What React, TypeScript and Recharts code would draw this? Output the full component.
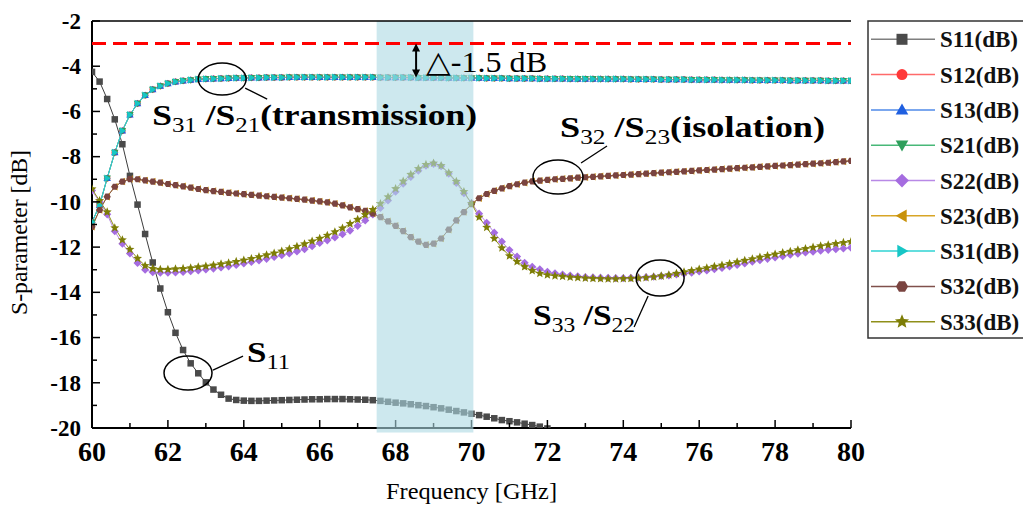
import React from 'react';
import { LineChart, Line, XAxis, YAxis, ReferenceArea, ReferenceLine, ReferenceDot } from 'recharts';

// frequency sweep [GHz]
const freq = [
  60, 60.2, 60.4, 60.6, 60.8, 61, 61.2, 61.4, 61.6, 61.8,
  62, 62.2, 62.4, 62.6, 62.8, 63, 63.2, 63.4, 63.6, 63.8,
  64, 64.2, 64.4, 64.6, 64.8, 65, 65.2, 65.4, 65.6, 65.8,
  66, 66.2, 66.4, 66.6, 66.8, 67, 67.2, 67.4, 67.6, 67.8,
  68, 68.2, 68.4, 68.6, 68.8, 69, 69.2, 69.4, 69.6, 69.8,
  70, 70.2, 70.4, 70.6, 70.8, 71, 71.2, 71.4, 71.6, 71.8,
  72, 72.2, 72.4, 72.6, 72.8, 73, 73.2, 73.4, 73.6, 73.8,
  74, 74.2, 74.4, 74.6, 74.8, 75, 75.2, 75.4, 75.6, 75.8,
  76, 76.2, 76.4, 76.6, 76.8, 77, 77.2, 77.4, 77.6, 77.8,
  78, 78.2, 78.4, 78.6, 78.8, 79, 79.2, 79.4, 79.6, 79.8,
  80,
];

// S11 drops below the -20 dB floor after 72 GHz
const s11 = [
  -4.25, -4.68, -5.45, -6.35, -7.45, -8.85, -10.12, -11.42, -12.68, -13.83,
  -14.88, -15.79, -16.55, -17.14, -17.58, -17.98, -18.3, -18.53, -18.7, -18.76,
  -18.79, -18.8, -18.8, -18.79, -18.78, -18.77, -18.76, -18.75, -18.74, -18.73,
  -18.73, -18.72, -18.72, -18.72, -18.73, -18.74, -18.75, -18.77, -18.8, -18.84,
  -18.88, -18.91, -18.95, -18.99, -19.03, -19.08, -19.13, -19.19, -19.25, -19.31,
  -19.37, -19.43, -19.5, -19.57, -19.65, -19.7, -19.75, -19.81, -19.87, -19.94,
  -20.02,
];

// S12 / S13 / S21 / S31 lie on top of each other
const transmission = [
  -10.9, -10.15, -8.95, -7.82, -6.85, -6.15, -5.65, -5.28, -5.03, -4.87,
  -4.76, -4.69, -4.64, -4.61, -4.58, -4.56, -4.55, -4.54, -4.53, -4.52,
  -4.52, -4.51, -4.51, -4.5, -4.5, -4.5, -4.49, -4.49, -4.49, -4.49,
  -4.49, -4.49, -4.49, -4.49, -4.49, -4.49, -4.49, -4.49, -4.5, -4.5,
  -4.5, -4.5, -4.5, -4.51, -4.51, -4.51, -4.51, -4.52, -4.52, -4.52,
  -4.52, -4.52, -4.53, -4.53, -4.53, -4.54, -4.54, -4.54, -4.54, -4.55,
  -4.55, -4.55, -4.55, -4.56, -4.56, -4.56, -4.56, -4.57, -4.57, -4.57,
  -4.57, -4.58, -4.58, -4.58, -4.58, -4.59, -4.59, -4.59, -4.59, -4.6,
  -4.6, -4.6, -4.6, -4.61, -4.61, -4.61, -4.61, -4.62, -4.62, -4.62,
  -4.62, -4.62, -4.63, -4.63, -4.63, -4.63, -4.63, -4.64, -4.64, -4.64,
  -4.64,
];

const s22 = [
  -9.5, -10.0, -10.55, -11.3, -11.85, -12.28, -12.7, -13.0, -13.11, -13.13,
  -13.13, -13.12, -13.1, -13.07, -13.03, -12.99, -12.95, -12.9, -12.85, -12.79,
  -12.72, -12.66, -12.59, -12.52, -12.44, -12.36, -12.28, -12.19, -12.09, -11.96,
  -11.82, -11.7, -11.57, -11.43, -11.27, -11.06, -10.82, -10.56, -10.27, -9.94,
  -9.55, -9.2, -8.9, -8.62, -8.4, -8.32, -8.42, -8.75, -9.16, -9.62,
  -10.05, -10.52, -10.92, -11.36, -11.76, -12.13, -12.42, -12.69, -12.87, -12.98,
  -13.09, -13.16, -13.21, -13.26, -13.29, -13.32, -13.34, -13.35, -13.36, -13.37,
  -13.37, -13.36, -13.35, -13.33, -13.31, -13.28, -13.25, -13.21, -13.17, -13.13,
  -13.08, -13.03, -12.98, -12.92, -12.86, -12.79, -12.72, -12.65, -12.58, -12.52,
  -12.46, -12.4, -12.34, -12.29, -12.24, -12.2, -12.16, -12.12, -12.09, -12.06,
  -12.03,
];

const s33 = [
  -9.43, -9.95, -10.45, -11.15, -11.68, -12.1, -12.5, -12.82, -12.95, -12.99,
  -12.99, -12.97, -12.95, -12.92, -12.88, -12.84, -12.8, -12.75, -12.7, -12.64,
  -12.58, -12.51, -12.43, -12.35, -12.27, -12.18, -12.08, -11.97, -11.86, -11.74,
  -11.62, -11.48, -11.33, -11.16, -10.97, -10.78, -10.57, -10.34, -10.08, -9.78,
  -9.42, -9.09, -8.79, -8.53, -8.35, -8.29, -8.4, -8.72, -9.1, -9.55,
  -10.08, -10.68, -11.13, -11.62, -12.04, -12.39, -12.64, -12.87, -13.04, -13.16,
  -13.23, -13.27, -13.3, -13.33, -13.35, -13.37, -13.39, -13.4, -13.41, -13.41,
  -13.4, -13.39, -13.37, -13.35, -13.32, -13.28, -13.23, -13.17, -13.1, -13.04,
  -12.98, -12.92, -12.86, -12.8, -12.73, -12.66, -12.59, -12.52, -12.45, -12.38,
  -12.31, -12.25, -12.19, -12.13, -12.07, -12.01, -11.95, -11.9, -11.85, -11.8,
  -11.76,
];

// S23 / S32
const isolation = [
  -11.1, -10.36, -9.77, -9.33, -9.1, -8.99, -9.0, -9.05, -9.1, -9.15,
  -9.21, -9.26, -9.31, -9.37, -9.43, -9.48, -9.52, -9.56, -9.6, -9.63,
  -9.66, -9.69, -9.72, -9.75, -9.78, -9.81, -9.84, -9.87, -9.9, -9.94,
  -9.98, -10.02, -10.08, -10.15, -10.24, -10.32, -10.4, -10.51, -10.67, -10.86,
  -11.06, -11.29, -11.56, -11.76, -11.9, -11.85, -11.62, -11.23, -10.82, -10.45,
  -10.1, -9.84, -9.65, -9.51, -9.4, -9.3, -9.22, -9.15, -9.09, -9.06,
  -9.03, -9.0, -8.98, -8.96, -8.93, -8.91, -8.89, -8.87, -8.85, -8.83,
  -8.81, -8.79, -8.77, -8.75, -8.73, -8.71, -8.69, -8.67, -8.65, -8.63,
  -8.61, -8.59, -8.57, -8.55, -8.53, -8.51, -8.49, -8.47, -8.45, -8.43,
  -8.41, -8.39, -8.37, -8.35, -8.33, -8.31, -8.29, -8.27, -8.24, -8.21,
  -8.19,
];

const xTicks = [60, 61, 62, 63, 64, 65, 66, 67, 68, 69, 70, 71, 72, 73, 74, 75, 76, 77, 78, 79, 80];
const yTicks = [-20, -19, -18, -17, -16, -15, -14, -13, -12, -11, -10, -9, -8, -7, -6, -5, -4, -3, -2];

const band = [67.5, 70.05];
const limitDb = -3;
const deltaAt = { f: 68.54, top: -3, bottom: -4.5 };

const data = freq.map((f, i) => ({
  f,
  s11: s11[i] ?? null,
  s12: transmission[i],
  s13: transmission[i],
  s21: transmission[i],
  s22: s22[i],
  s23: isolation[i],
  s31: transmission[i],
  s32: isolation[i],
  s33: s33[i],
}));

const series = [
  { key: 's11', name: 'S11(dB)', line: '#7f7f7f', plotLine: '#3c3c3c', mark: '#4a4a4a', shape: 'square' },
  { key: 's12', name: 'S12(dB)', line: '#ff6a6a', plotLine: '#ff6a6a', mark: '#ff3838', shape: 'circle' },
  { key: 's13', name: 'S13(dB)', line: '#4f8ae8', plotLine: '#4f8ae8', mark: '#1f5fe0', shape: 'up' },
  { key: 's21', name: 'S21(dB)', line: '#48b878', plotLine: '#48b878', mark: '#2e9e5b', shape: 'down' },
  { key: 's22', name: 'S22(dB)', line: '#b889e6', plotLine: '#b889e6', mark: '#a56ce0', shape: 'diamond' },
  { key: 's23', name: 'S23(dB)', line: '#d8a526', plotLine: '#d8a526', mark: '#c8920a', shape: 'left' },
  { key: 's31', name: 'S31(dB)', line: '#2fd3d3', plotLine: '#2fd3d3', mark: '#17c6c6', shape: 'right' },
  { key: 's32', name: 'S32(dB)', line: '#80504b', plotLine: '#80504b', mark: '#7a4440', shape: 'hex' },
  { key: 's33', name: 'S33(dB)', line: '#8f8f1a', plotLine: '#8f8f1a', mark: '#7d7d06', shape: 'star' },
];

const serif = '"Liberation Serif", "Times New Roman", serif';
const W = 1023;
const H = 508;
const plotMargin = { top: 21, right: 172, bottom: 80, left: 92 };

const pts = (cx: number, cy: number, list: number[][]) =>
  list.map(([dx, dy]) => `${cx + dx},${cy + dy}`).join(' ');

function Marker({ shape, cx, cy, s, fill }: { shape: string; cx: number; cy: number; s: number; fill: string }) {
  const h = s / 2;
  switch (shape) {
    case 'square':
      return <rect x={cx - h} y={cy - h} width={s} height={s} fill={fill} />;
    case 'circle':
      return <circle cx={cx} cy={cy} r={h} fill={fill} />;
    case 'up':
      return <polygon points={pts(cx, cy, [[0, -h * 1.15], [h * 1.15, h * 0.85], [-h * 1.15, h * 0.85]])} fill={fill} />;
    case 'down':
      return <polygon points={pts(cx, cy, [[0, h * 1.15], [h * 1.15, -h * 0.85], [-h * 1.15, -h * 0.85]])} fill={fill} />;
    case 'left':
      return <polygon points={pts(cx, cy, [[-h * 1.15, 0], [h * 0.85, -h * 1.15], [h * 0.85, h * 1.15]])} fill={fill} />;
    case 'right':
      return <polygon points={pts(cx, cy, [[h * 1.15, 0], [-h * 0.85, -h * 1.15], [-h * 0.85, h * 1.15]])} fill={fill} />;
    case 'diamond':
      return <polygon points={pts(cx, cy, [[0, -h * 1.25], [h * 1.25, 0], [0, h * 1.25], [-h * 1.25, 0]])} fill={fill} />;
    case 'hex': {
      const r = h * 1.1;
      const list = [0, 1, 2, 3, 4, 5].map((k) => [r * Math.cos((k * Math.PI) / 3), r * Math.sin((k * Math.PI) / 3)]);
      return <polygon points={pts(cx, cy, list)} fill={fill} />;
    }
    case 'star': {
      const list = [0, 1, 2, 3, 4, 5, 6, 7, 8, 9].map((k) => {
        const r = k % 2 === 0 ? h * 1.35 : h * 0.6;
        const a = -Math.PI / 2 + (k * Math.PI) / 5;
        return [r * Math.cos(a), r * Math.sin(a)];
      });
      return <polygon points={pts(cx, cy, list)} fill={fill} />;
    }
    default:
      return null;
  }
}

const XTick = ({ x, y, payload }: any) => {
  const v = payload.value;
  const major = v % 2 === 0;
  return (
    <g>
      <line x1={x} x2={x} y1={y} y2={y - (major ? 8 : 5)} stroke="#000" strokeWidth={1.5} />
      {major && (
        <text x={x} y={y + 33} textAnchor="middle" fontFamily={serif} fontWeight="bold" fontSize={28} fill="#000">
          {v}
        </text>
      )}
    </g>
  );
};

const YTick = ({ x, y, payload }: any) => {
  const v = payload.value;
  const major = v % 2 === 0;
  return (
    <g>
      <line x1={x} x2={x + (major ? 8 : 5)} y1={y} y2={y} stroke="#000" strokeWidth={1.5} />
      {major && (
        <text x={x - 11} y={y} dy="0.34em" textAnchor="end" fontFamily={serif} fontWeight="bold" fontSize={23} fill="#000">
          {v}
        </text>
      )}
    </g>
  );
};

const RightTick = ({ x, y }: any) => <line x1={x} x2={x - 7} y1={y} y2={y} stroke="#000" strokeWidth={1.5} />;

// text with subscripts: parts of [text, isSub]
function SubText({ x, y, parts, width }: { x: number; y: number; parts: [string, boolean][]; width: number }) {
  const size = 30;
  let shifted = false;
  return (
    <text x={x} y={y} fontFamily={serif} fontSize={size} fontWeight="bold" fill="#000" textLength={width} lengthAdjust="spacingAndGlyphs">
      {parts.map(([t, sub], i) => {
        let dy = 0;
        if (sub && !shifted) { dy = 7; shifted = true; }
        if (!sub && shifted) { dy = -7; shifted = false; }
        return (
          <tspan key={i} dy={dy} fontSize={sub ? 21 : size} fontWeight={sub ? 'normal' : 'bold'}>
            {t}
          </tspan>
        );
      })}
    </text>
  );
}

const notes = [
  {
    f: 63.43, v: -4.57, rx: 24, ry: 16, line: [23, 9, 45, 20], text: [-70, 46], width: 325,
    parts: [['S', false], ['31', true], [' /S', false], ['21', true], ['(transmission)', false]],
  },
  {
    f: 72.28, v: -8.9, rx: 25, ry: 17, line: [23, -14, 49, -31], text: [2, -40], width: 265,
    parts: [['S', false], ['32', true], [' /S', false], ['23', true], ['(isolation)', false]],
  },
  {
    f: 74.97, v: -13.37, rx: 24, ry: 18, line: [-12, 18, -26, 49], text: [-127, 47], width: 102,
    parts: [['S', false], ['33', true], [' /S', false], ['22', true]],
  },
  {
    f: 62.53, v: -17.57, rx: 24, ry: 17, line: [25, -3, 55, -17], text: [59, -11], width: 43,
    parts: [['S', false], ['11', true]],
  },
];

const DeltaArrow = (p: any) => {
  const x = p.x1;
  const y1 = Math.min(p.y1, p.y2);
  const y2 = Math.max(p.y1, p.y2);
  return (
    <g>
      <line x1={x} x2={x} y1={y1 + 5} y2={y2 - 5} stroke="#000" strokeWidth={2} />
      <polygon points={`${x},${y1} ${x - 4},${y1 + 8} ${x + 4},${y1 + 8}`} fill="#000" />
      <polygon points={`${x},${y2} ${x - 4},${y2 - 8} ${x + 4},${y2 - 8}`} fill="#000" />
      <text x={x + 10} y={y1 + 28} fontFamily={serif} fontSize={30} fill="#000" textLength={121} lengthAdjust="spacingAndGlyphs">
        △-1.5 dB
      </text>
    </g>
  );
};

function Legend() {
  return (
    <svg width={160} height={320} style={{ position: 'absolute', left: 867, top: 20 }}>
      <rect x={1} y={1} width={170} height={317} fill="#fff" stroke="#333" strokeWidth={1.5} />
      {series.map((s, k) => {
        const cy = 19.3 + 35.3 * k;
        return (
          <g key={s.key}>
            <line x1={4} x2={68} y1={cy} y2={cy} stroke={s.line} strokeWidth={1.5} />
            <Marker shape={s.shape} cx={35} cy={cy} s={11} fill={s.mark} />
            <text x={73} y={cy + 8} fontFamily={serif} fontWeight="bold" fontSize={23} fill="#111">
              {s.name}
            </text>
          </g>
        );
      })}
    </svg>
  );
}

// transparent chart on top of the main one, sharing its scales
function Overlay({ children }: { children: React.ReactNode }) {
  return (
    <div style={{ position: 'absolute', left: 0, top: 0, pointerEvents: 'none' }}>
      <LineChart width={W} height={H} data={data} margin={plotMargin}>
        <XAxis dataKey="f" type="number" domain={[60, 80]} allowDataOverflow hide />
        <YAxis type="number" domain={[-20, -2]} allowDataOverflow hide />
        {children}
      </LineChart>
    </div>
  );
}

export default function App() {
  return (
    <div style={{ position: 'absolute', left: 0, top: 0, width: W, height: H, overflow: 'hidden', background: '#fff' }}>
      <LineChart width={W} height={H} data={data} margin={{ top: 21, right: 172, bottom: 0, left: 0 }}>
        <XAxis
          dataKey="f"
          type="number"
          domain={[60, 80]}
          ticks={xTicks}
          allowDataOverflow
          height={80}
          tickSize={0}
          tickMargin={0}
          tick={<XTick />}
          interval={0}
          axisLine={{ stroke: '#000', strokeWidth: 2 }}
          label={{
            content: ({ viewBox }: any) => (
              <text x={viewBox.x + viewBox.width / 2} y={viewBox.y + 71} textAnchor="middle" fontFamily={serif} fontSize={23} fill="#000" textLength={171} lengthAdjust="spacingAndGlyphs">
                Frequency [GHz]
              </text>
            ),
          }}
        />
        <YAxis
          type="number"
          domain={[-20, -2]}
          ticks={yTicks}
          allowDataOverflow
          width={92}
          tickSize={0}
          tickMargin={0}
          tick={<YTick />}
          interval={0}
          axisLine={{ stroke: '#000', strokeWidth: 2 }}
          label={{
            content: ({ viewBox }: any) => {
              const cx = 27;
              const cy = viewBox.y + viewBox.height / 2 + 8;
              return (
                <text x={cx} y={cy} transform={`rotate(-90, ${cx}, ${cy})`} textAnchor="middle" fontFamily={serif} fontSize={23} fill="#000" textLength={165} lengthAdjust="spacingAndGlyphs">
                  S-parameter [dB]
                </text>
              );
            },
          }}
        />
        <YAxis
          yAxisId="r"
          orientation="right"
          type="number"
          domain={[-20, -2]}
          ticks={yTicks}
          allowDataOverflow
          width={0}
          tickSize={0}
          tickMargin={0}
          tick={<RightTick />}
          interval={0}
          axisLine={{ stroke: '#000', strokeWidth: 1.5 }}
        />
        {series.map((s) => (
          <Line
            key={s.key}
            dataKey={s.key}
            name={s.name}
            stroke={s.plotLine}
            strokeWidth={1}
            isAnimationActive={false}
            activeDot={false}
            connectNulls={false}
            dot={(p: any) =>
              p.cx == null || p.cy == null || p.value == null ? (
                <g key={`${s.key}-${p.index}`} />
              ) : (
                <g key={`${s.key}-${p.index}`}>
                  <Marker shape={s.shape} cx={p.cx} cy={p.cy} s={s.shape === 'star' ? 7 : 6.5} fill={s.mark} />
                </g>
              )
            }
          />
        ))}
      </LineChart>
      <Overlay>
        <ReferenceArea
          x1={band[0]}
          x2={band[1]}
          y1={-20.2}
          y2={-2}
          ifOverflow="visible"
          fill="#acd9e3"
          fillOpacity={0.6}
          stroke="none"
        />
      </Overlay>
      <Overlay>
        <ReferenceLine y={-2} stroke="#000" strokeWidth={1.5} />
        <ReferenceLine y={limitDb} stroke="#ff0000" strokeWidth={3} strokeDasharray="14 7" />
        <ReferenceLine
          segment={[{ x: deltaAt.f, y: deltaAt.top }, { x: deltaAt.f, y: deltaAt.bottom }]}
          shape={(p: any) => <DeltaArrow {...p} />}
        />
        {notes.map((n, i) => (
          <ReferenceDot
            key={i}
            x={n.f}
            y={n.v}
            r={0}
            shape={(p: any) => (
              <g>
                <ellipse cx={p.cx} cy={p.cy} rx={n.rx} ry={n.ry} fill="none" stroke="#000" strokeWidth={1.5} />
                <line x1={p.cx + n.line[0]} y1={p.cy + n.line[1]} x2={p.cx + n.line[2]} y2={p.cy + n.line[3]} stroke="#000" strokeWidth={1.3} />
                <SubText x={p.cx + n.text[0]} y={p.cy + n.text[1]} parts={n.parts as [string, boolean][]} width={n.width} />
              </g>
            )}
          />
        ))}
      </Overlay>
      <Legend />
    </div>
  );
}
